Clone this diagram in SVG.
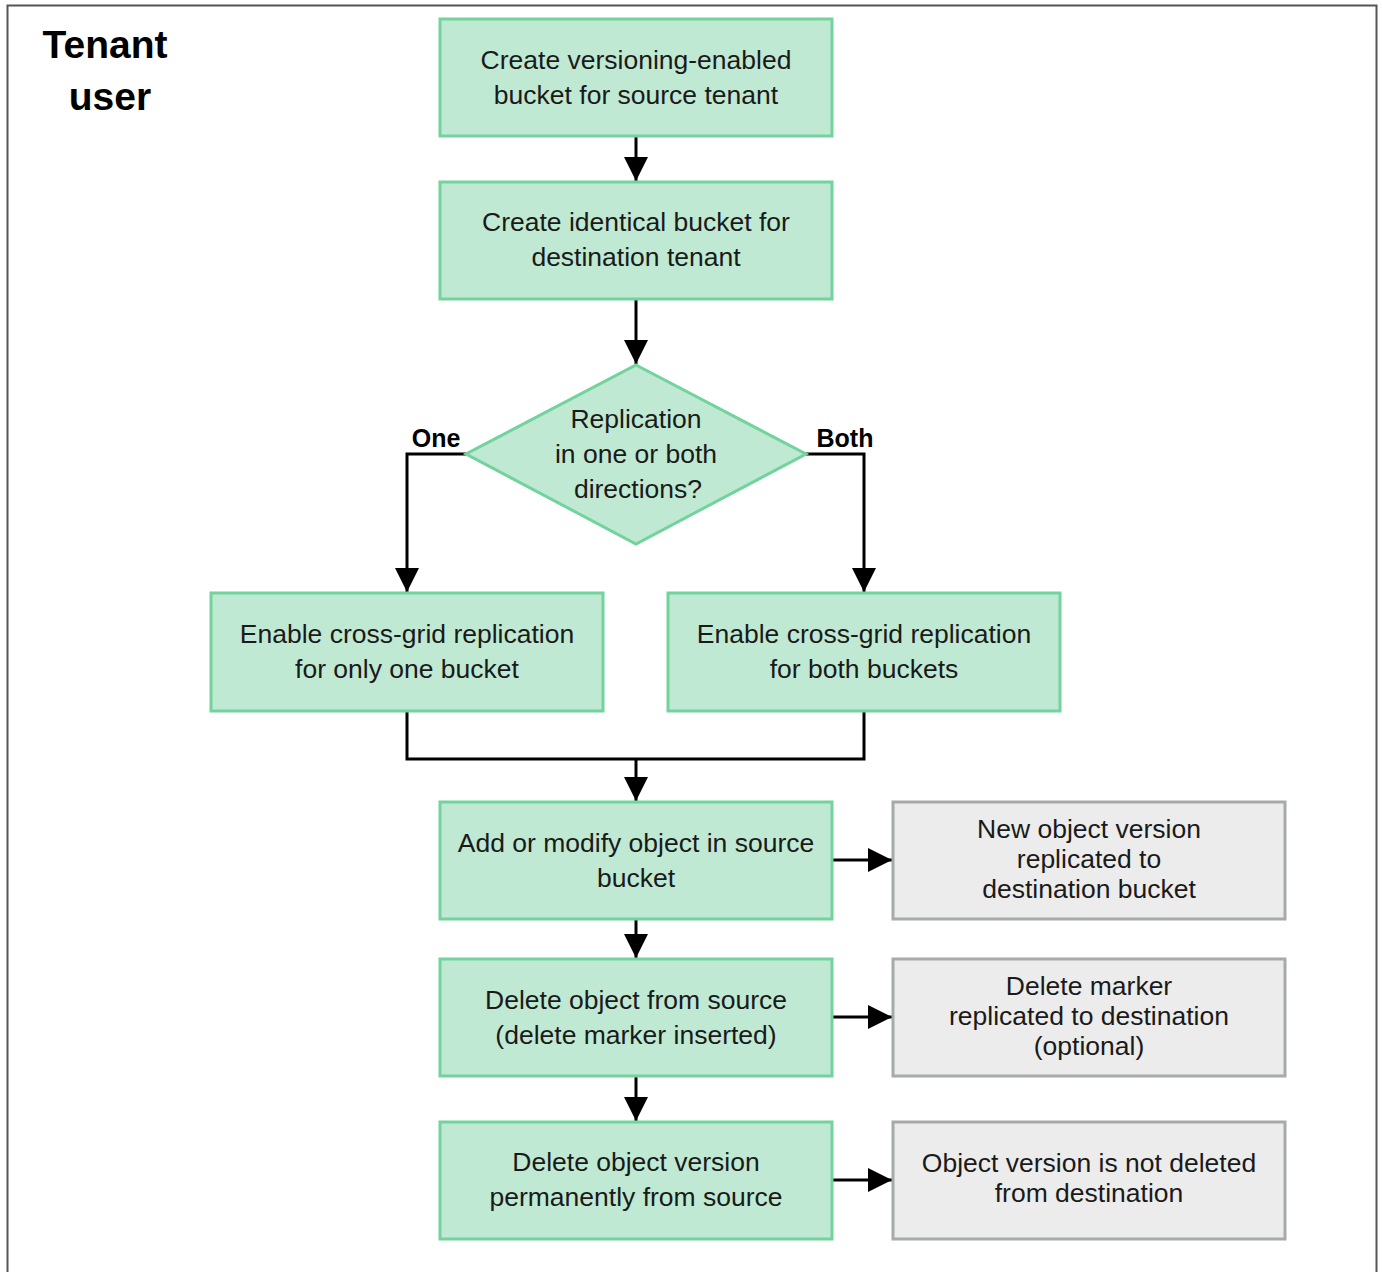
<svg xmlns="http://www.w3.org/2000/svg" width="1382" height="1272" viewBox="0 0 1382 1272">
<defs>
<style>
.g{fill:#bfe9d3;stroke:#72d39d;stroke-width:3}
.r{fill:#ececec;stroke:#a6aaab;stroke-width:3}
.t{font-family:"Liberation Sans",Arial,sans-serif;font-size:26.5px;fill:#1a1a1a;text-anchor:middle}
.b{font-family:"Liberation Sans",Arial,sans-serif;font-weight:bold;fill:#000}
.c{fill:none;stroke:#000;stroke-width:3}
</style>
<marker id="ah" viewBox="0 0 24 24" refX="24" refY="12" markerWidth="24" markerHeight="24" markerUnits="userSpaceOnUse" orient="auto">
<path d="M0,0 L24,12 L0,24 z" fill="#000"/>
</marker>
</defs>
<rect x="0" y="0" width="1382" height="1272" fill="#fff"/>
<rect x="7.5" y="5.5" width="1369" height="1280" fill="none" stroke="#555" stroke-width="2"/>
<g id="title">
<text class="b" x="105" y="58" font-size="39" text-anchor="middle">Tenant</text>
<text class="b" x="110" y="110" font-size="39" text-anchor="middle">user</text>
</g>
<g id="connectors">
<path class="c" d="M636,136 V181" marker-end="url(#ah)"/>
<path class="c" d="M636,299 V364" marker-end="url(#ah)"/>
<path class="c" d="M466,454 H407 V592" marker-end="url(#ah)"/>
<path class="c" d="M806,454 H864 V592" marker-end="url(#ah)"/>
<path class="c" d="M407,711 V759 H864 V711"/>
<path class="c" d="M636,759 V801" marker-end="url(#ah)"/>
<path class="c" d="M636,919 V958" marker-end="url(#ah)"/>
<path class="c" d="M636,1076 V1121" marker-end="url(#ah)"/>
<path class="c" d="M832,860 H892" marker-end="url(#ah)"/>
<path class="c" d="M832,1017 H892" marker-end="url(#ah)"/>
<path class="c" d="M832,1180 H892" marker-end="url(#ah)"/>
<text class="b" x="436" y="447" font-size="25" text-anchor="middle">One</text>
<text class="b" x="845" y="447" font-size="25" text-anchor="middle">Both</text>
</g>
<g id="n1">
<rect class="g" x="440" y="19" width="392" height="117"/>
<text class="t" x="636" y="69">Create versioning-enabled</text>
<text class="t" x="636" y="104">bucket for source tenant</text>
</g>
<g id="n2">
<rect class="g" x="440" y="182" width="392" height="117"/>
<text class="t" x="636" y="231">Create identical bucket for</text>
<text class="t" x="636" y="266">destination tenant</text>
</g>
<g id="d1">
<polygon class="g" points="636,365 806,454 636,544 466,454"/>
<text class="t" x="636" y="428">Replication</text>
<text class="t" x="636" y="463">in one or both</text>
<text class="t" x="638" y="498">directions?</text>
</g>
<g id="n3">
<rect class="g" x="211" y="593" width="392" height="118"/>
<text class="t" x="407" y="643">Enable cross-grid replication</text>
<text class="t" x="407" y="678">for only one bucket</text>
</g>
<g id="n4">
<rect class="g" x="668" y="593" width="392" height="118"/>
<text class="t" x="864" y="643">Enable cross-grid replication</text>
<text class="t" x="864" y="678">for both buckets</text>
</g>
<g id="n5">
<rect class="g" x="440" y="802" width="392" height="117"/>
<text class="t" x="636" y="852">Add or modify object in source</text>
<text class="t" x="636" y="887">bucket</text>
</g>
<g id="n6">
<rect class="g" x="440" y="959" width="392" height="117"/>
<text class="t" x="636" y="1009">Delete object from source</text>
<text class="t" x="636" y="1044">(delete marker inserted)</text>
</g>
<g id="n7">
<rect class="g" x="440" y="1122" width="392" height="117"/>
<text class="t" x="636" y="1171">Delete object version</text>
<text class="t" x="636" y="1206">permanently from source</text>
</g>
<g id="r1">
<rect class="r" x="893" y="802" width="392" height="117"/>
<text class="t" x="1089" y="838">New object version</text>
<text class="t" x="1089" y="868">replicated to</text>
<text class="t" x="1089" y="898">destination bucket</text>
</g>
<g id="r2">
<rect class="r" x="893" y="959" width="392" height="117"/>
<text class="t" x="1089" y="995">Delete marker</text>
<text class="t" x="1089" y="1025">replicated to destination</text>
<text class="t" x="1089" y="1055">(optional)</text>
</g>
<g id="r3">
<rect class="r" x="893" y="1122" width="392" height="117"/>
<text class="t" x="1089" y="1172">Object version is not deleted</text>
<text class="t" x="1089" y="1202">from destination</text>
</g>
</svg>
